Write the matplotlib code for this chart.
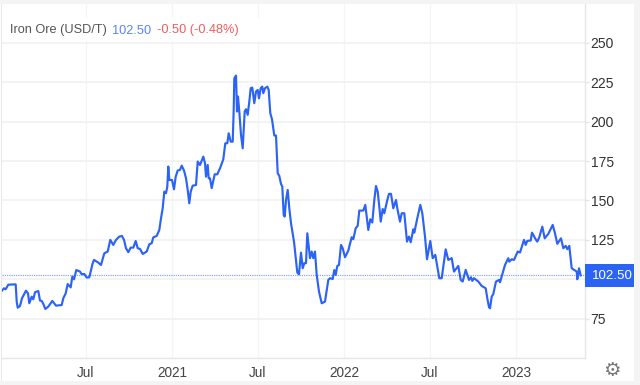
import matplotlib
matplotlib.use("Agg")
import matplotlib.pyplot as plt
import matplotlib.dates as mdates
from matplotlib.patches import Rectangle
from matplotlib.transforms import blended_transform_factory
import numpy as np
import pandas as pd

# observation period: one unit is about 2.123 days after the start date
START = pd.Timestamp("2020-01-01")
DAYS_PER_PERIOD = 2.123
period_2020 = [1.7,4,5.7,8.3,15.7,16.7,17.7,20,22,26,28,29.3,31.7,33.3,35,38.3,40,41.7,43.3,45.3,48.3,52.3,56,61.7,63.3,65.7,67.7,70.7,72.3,74,76.3,80,81.7,84.3,86.7,89.3,92.7,94,98.3,101,104.3,107.7,110.3,113.3,116,119.3,122,124,126,128.3,130.7,133.3,135.7,137.7,140,142.7,146.7,149.3,151.7,153.3,156.7,159.3,161,162.7,164.3,166,167.3,168.3,169.3,172]
price_2020 = [92.6,94.3,93.7,96.6,96.8,85.8,82.0,83.1,88,92.8,91.1,84.8,89,87.3,91.8,92.6,86.5,86.3,84.4,81.2,82.7,86.3,83.3,83.7,88,91.1,97,94.9,101.7,100,105.9,104.9,103.2,103.4,101.1,101.3,110.2,112.3,110.6,109.1,116.5,117.6,125,121.8,125,127.1,127.5,125,119.7,117.2,120.1,120.1,124.3,119.7,119.3,116.1,117.6,122.2,122.9,126.6,127.5,131.3,138.7,145.1,155.6,154.6,158.8,171.5,163,163]
period_2021 = [174,175.7,177.7,180,181.7,184,186,187.7,189.3,190.7,192.7,196,197.7,200,203.3,205,206,207.7,208.7,210,211.7,214.7,217.3,220,223.3,225.3,227.3,228.7,230.7,232.7,233.7,234.3,236,237,238,239.3,241,242.7,244.7,246,247.7,249.3,250.7,252.3,254.3,256,257.7,259,260.7,262.3,263.3,265,267.3,268.7,270.3,272,274.3,276,277.7,279.3,281,282.3,283.7,284.7,286,287.7,289.3,291,292.7,294,297.3,299,301,302.7,304.3,306,307.3,310,311.7,313.3,315,316.7,319,321.7,325,328.3,330,332.7,334.3,335.7,337.3,339,341,342.7,345]
price_2021 = [157.1,165.1,169,169.4,172.1,169,164.1,156.7,148.2,155.6,159.4,159.8,174.7,172.5,177.8,173.6,165.1,172.5,164.1,164,157.8,166.6,166.6,170.4,176.1,186.3,186.3,192.6,187.3,187.3,207.4,227.5,229.2,206.4,215.9,206.4,191.6,183.1,206.4,207.9,204.3,212.7,221.2,221.6,211.7,219.1,220.1,214.8,221.2,222.2,218,221.2,222.2,220.1,205.3,201.5,191.2,191.2,167.3,165.6,160.5,158.8,140.8,139.8,150.3,156.7,145,135.6,129.2,123.9,104.3,103.2,116.9,107,110.2,110.2,129.2,113.4,117.6,113.4,117.6,102.8,92.2,84.8,85.9,99.6,100.7,100.2,105.9,102.8,108.5,109.1,121.8,119.7,114]
period_2022 = [348.3,351.7,353.3,355.7,357.7,359.3,363.3,365.3,366.7,368.3,370.3,372.3,374.3,376,377.7,379.3,380.7,382.7,384.3,387.3,389,391,393.3,395,396,397.3,400,401.7,404.3,407,409,410.7,413.3,414.3,417.3,420.3,422.3,425,427,430.3,432.7,435.3,437.3,439.3,441.7,445.7,448.3,451.7,454,458.3,460.7,462.7,465.7,469,471,472.3,474,478.3,481.7,485.7,487.3,489,490,491.7,493.3,496,499,500,505,508.3,509.3,511.7,514]
price_2022 = [118.2,126.7,125.4,132.4,133.9,143.6,143.6,147.2,139.8,131.3,138.1,136,150.3,159.2,155.6,146.1,136.6,144.6,141.9,150.3,154.2,154.2,145,148.2,150.3,145,136.6,141.9,141.9,123.9,127.1,123.5,131.7,129.6,138.7,147.2,141.9,127.1,112.7,124.3,113.4,115.5,108.1,100.7,100.7,119,112.3,113.4,104.9,108.5,99.6,98.6,106,99.6,101.3,99,100.7,98.6,95.8,94.3,88,82.3,81.6,89,90.7,98.6,99.6,98.1,109.1,113.4,111.2,112.7,112.3]
period_2023 = [517.7,520,524,525.7,527.3,530.7,532,536,537.3,539.3,542.3,544.7,548.3,552.7,555,557.3,561,563.3,565.7,567.3,569.3,571.7,574,576.7,577.3,579,580.7]
price_2023 = [117.6,117,125,121.8,124.4,124.6,129.6,125,123.9,126.7,133.4,126,128.8,134.5,129.2,122.5,126,119.7,121.2,119.1,121.2,107,106,104.9,100,107,102.5]
y_ticks = [75, 100, 125, 150, 175, 200, 225, 250]
y_labels = ["75", "", "125", "150", "175", "200", "225", "250"]
x_ticks = ["2020-07-01", "2021-01-01", "2021-07-01", "2022-01-01", "2022-07-01", "2023-01-01"]
x_labels = ["Jul", "2021", "Jul", "2022", "Jul", "2023"]
last_price = 102.50

def to_dates(p):
    return START + pd.to_timedelta(np.asarray(p) * DAYS_PER_PERIOD, unit="D")

periods = period_2020 + period_2021 + period_2022 + period_2023
prices = price_2020 + price_2021 + price_2022 + price_2023

BLUE = "#2b63f6"
GRID_H = "#f0f0f0"
GRID_V = "#f3f6f7"
W, H = 640, 385

plt.rcParams["font.family"] = ["Liberation Sans", "DejaVu Sans"]
fig = plt.figure(figsize=(6.4, 3.85), dpi=100, facecolor="white")

# outer page bands
fig.add_artist(Rectangle((0, 1 - 4 / H), 1, 4 / H, transform=fig.transFigure, color="#f4f4f4", lw=0))
fig.add_artist(Rectangle((0, 0), 1, 4 / H, transform=fig.transFigure, color="#f4f4f4", lw=0))
fig.add_artist(Rectangle((634 / W, 0), 6 / W, 1, transform=fig.transFigure, color="#f4f4f4", lw=0))
fig.add_artist(Rectangle((1 / W, 4 / H), 1 / W, 1 - 8 / H, transform=fig.transFigure, color="#e8e8e8", lw=0))

ax = fig.add_axes([2 / W, (H - 358) / H, 583 / W, 354 / H], facecolor="white")
dates = to_dates(periods)
ax.set_xlim(to_dates([2.0])[0], to_dates([585.0])[0])
ax.set_ylim(50.1, 274.6)

ax.set_yticks(y_ticks, y_labels)
ax.yaxis.tick_right()
ax.tick_params(axis="y", length=3, width=1.0, color="#e6e6e6", pad=1.0, labelsize=10, labelcolor="#333333")
ax.set_xticks(mdates.date2num(pd.to_datetime(x_ticks)), x_labels)
ax.tick_params(axis="x", length=0, pad=6, labelsize=9.8, labelcolor="#444444")
ax.grid(axis="y", color=GRID_H, lw=1.1, zorder=1)
ax.grid(axis="x", color=GRID_V, lw=1.0, zorder=1)
ax.set_axisbelow(True)
for side, spine in ax.spines.items():
    spine.set_visible(side in ("right", "bottom"))
    spine.set_color("#e4e6e8")
    spine.set_linewidth(1.0)

# header background hides the vertical grid lines behind the legend text
ax.add_patch(Rectangle((0, 0.8955), 0.52, 0.0640,
                       transform=ax.transAxes, color="white", lw=0, zorder=1.5))

ax.axhline(last_price, color="#8aa8fa", lw=0.9, ls=(0, (1, 0.8)), zorder=2)
ax.plot(dates, prices, color=BLUE, lw=1.55, solid_joinstyle="round", zorder=3)

# last-value flag
trans = blended_transform_factory(ax.transAxes, ax.transData)
ax.add_patch(Rectangle((1.0, last_price - 7.1), 52 / 583, 14.0, transform=trans,
                       color=BLUE, lw=0, clip_on=False, zorder=4))
ax.text(1 + 27 / 583, last_price - 0.1, f"{last_price:.2f}", transform=trans, color="white",
        fontsize=9.6, ha="center", va="center", zorder=5)

# legend header
hy = 1 - 26.5 / 354
ax.text(8 / 583, hy, "Iron Ore (USD/T)", transform=ax.transAxes, color="#555555", fontsize=9.2, va="center", zorder=5)
ax.text(110 / 583, hy, "102.50", transform=ax.transAxes, color="#5a82f5", fontsize=9.2, va="center", zorder=5)
ax.text(155 / 583, hy, "-0.50 (-0.48%)", transform=ax.transAxes, color="#f25c5c", fontsize=9.2, va="center", zorder=5)

# settings icon
fig.text(612 / W, 1 - 370.5 / H, "\u2699", family="DejaVu Sans", fontsize=14, color="#777777", ha="center", va="center")

fig.savefig("out.png", dpi=100, facecolor=fig.get_facecolor())
